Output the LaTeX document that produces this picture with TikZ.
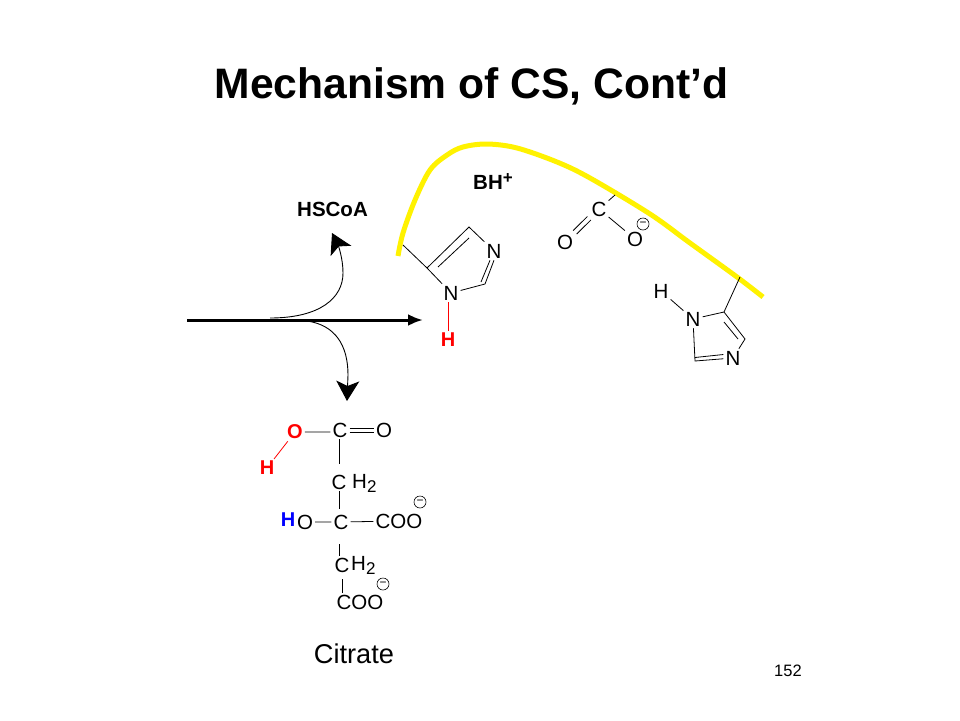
\documentclass[tikz,border=0pt]{standalone}
\usepackage{fontspec}
\setmainfont{Liberation Sans}
\usetikzlibrary{arrows.meta}
\newcommand{\subtwo}{\raisebox{-4pt}{\fontsize{17}{17}\selectfont 2}}
\tikzset{
	atom/.style={inner sep=2pt,font=\fontsize{20.5}{20.5}\selectfont},
	redatom/.style={atom,text=red,font=\fontsize{20}{20}\selectfont\bfseries},
	blueatom/.style={atom,text=blue,font=\fontsize{20}{20}\selectfont\bfseries},
	boldtext/.style={inner sep=0pt,font=\fontsize{20.5}{20.5}\selectfont\bfseries},
	charge/.style={circle,draw,line width=.6pt,inner sep=0pt,minimum size=12pt,font=\fontsize{12}{12}\selectfont},
	bond/.style={line width=.8pt},
	redbond/.style={bond,red},
	curly/.style={line width=.9pt,-{Stealth[length=20pt,width=23pt,inset=5pt]}},
}
\begin{document}
\begin{tikzpicture}[x=1pt,y=-1pt]
	\fill [white] (0,0) rectangle (960,720);
	\useasboundingbox (0,0) rectangle (960,720);
	% texts
	\node [inner sep=0pt,font=\fontsize{42.6}{42.6}\selectfont\bfseries] (title) at (471.5,86) {Mechanism of CS, Cont’d};
	\node [inner sep=0pt,font=\fontsize{27.2}{27.2}\selectfont] (citrate) at (354,654) {Citrate};
	\node [inner sep=0pt,font=\fontsize{16.5}{16.5}\selectfont] (pagenum) at (788,671) {152};
	\node [boldtext] (hscoa) at (332.5,209) {HSCoA};
	\node [boldtext,anchor=west] (bh) at (473,182) {BH\raisebox{6pt}{\fontsize{17}{17}\selectfont +}};
	% yellow curve
	\draw [yellow,line width=5pt,line join=round] plot [smooth,tension=.55] coordinates {(398,256) (403,233) (415,200) (430,170) (447,155) (463,147) (487,144) (517,148) (557,162) (590,178) (650,214) (690,243) (737,277) (763,297)};
	% atoms
	\foreach \name/\x/\y/\txt in {na/451/293/N,nb/494/251/N,ca/599/209/C,oa/565/242/O,ob/635/239/O,%
			hb/661/291/H,nc/693/319/N,nd/733/358/N,%
			cb/340/430/C,oc/384/430/O,cc/339/482/C,cd/341/522/C,od/305/522/O,cooa/399/521/COO,ce/342/565/C,coob/360/602/COO}
		\node [atom] (\name) at (\x,\y) {\txt};
	\node [atom,anchor=west] (hc) at (350,483) {H\subtwo};
	\node [atom,anchor=west] (hd) at (349,565) {H\subtwo};
	\node [redatom] (ha) at (448,340) {H};
	\node [redatom] (oe) at (295,432) {O};
	\node [redatom] (he) at (267,468) {H};
	\node [blueatom] (hf) at (288,520) {H};
	% charges
	\foreach \name/\x/\y in {chga/643/224,chgb/420/502,chgc/383/584}
		\node [charge] (\name) at (\x,\y) {−};
	% free ends of the ring and the side chains
	\foreach \name/\x/\y in {ra/427/268,rb/469/227,rc/485/284,rd/403/245,%
			re/615/195,rf/724/312,rg/745/339,rh/695/361,ri/740/277,%
			rj/438/267,rk/469/238,rl/481/282,rm/724/322,rn/738/339}
		\coordinate (\name) at (\x,\y);
	% left ring
	\draw [bond] (na) -- (ra) -- (rb) -- (nb) (ra) -- (rd) (na) -- (rc) -- (nb.south) (rj) -- (rk);
	\draw [bond] (rl) -- ([xshift=-4pt]nb.south);
	\draw [redbond] (ha.north) -- (ha.north |- na.south);
	% carboxylate
	\draw [bond] (ca) -- (re) (ca) -- (ob);
	\draw [bond] ([shift={(-2pt,2pt)}]ca.south west) -- ([shift={(-2pt,2pt)}]oa.north east);
	\draw [bond] ([shift={(1.5pt,-1.5pt)}]ca.south west) -- ([shift={(1.5pt,-1.5pt)}]oa.north east);
	% right ring
	\draw [bond] (hb) -- (nc) (nc) -- (rf) -- (rg) -- (nd) (rf) -- (ri) (nc) -- (rh) -- (nd);
	\draw [bond] (rm) -- (rn);
	\draw [bond] ([yshift=3.5pt]rh) -- ([yshift=3.5pt]nd.west);
	% citrate
	\draw [bond] (oe.east) -- (cb.west |- oe.east) (od) -- (cd) (cd) -- (cooa);
	\draw [bond] (cb.south -| cc) -- ([yshift=9pt]cc.north);
	\draw [bond] (cc.south) -- ([yshift=4pt]cd.north -| cc);
	\draw [bond] ([yshift=-13pt]cd.south -| cc) -- (ce.north -| cc);
	\draw [bond] ([yshift=-5pt]ce.south) -- (coob.north -| ce);
	\draw [bond] ([yshift=2pt]cb.east) -- ([yshift=2pt]oc.west) ([yshift=-2pt]cb.east) -- ([yshift=-2pt]oc.west);
	\draw [redbond] (oe) -- (he);
	% arrows
	\coordinate (start) at (187,320);
	\coordinate (stop) at (423,320);
	\coordinate (upin) at (270,318);
	\coordinate (uptip) at (332,233);
	\coordinate (downin) at (307,321);
	\coordinate (downtip) at (347,401);
	\draw [line width=3pt,-{Latex[length=15pt,width=12pt]}] (start) -- (stop);
	\draw [curly] (upin) .. controls (320,318) and (343,298) .. (343,273) .. controls (343,258) and (338,245) .. (uptip);
	\draw [curly] (downin) .. controls (335,325) and (348,345) .. (348,375) -- (downtip);
\end{tikzpicture}
\end{document}
